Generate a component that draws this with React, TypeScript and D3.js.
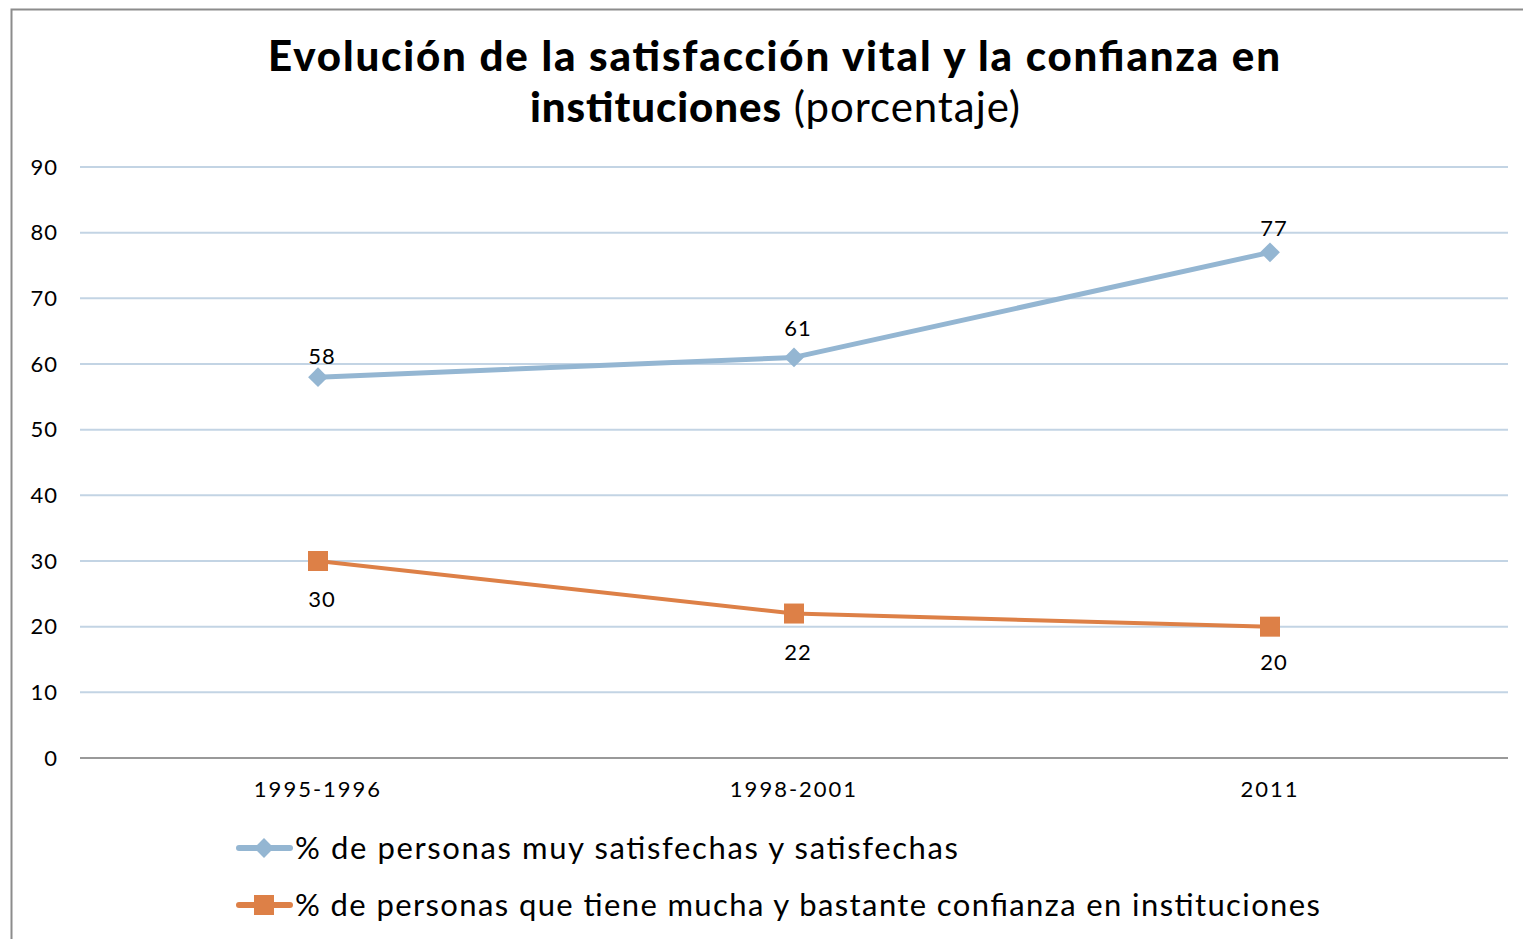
import React, { useEffect, useRef } from 'react';
import * as d3 from 'd3';

// Chart data
const periods = ['1995-1996', '1998-2001', '2011'];
const satisfied = [58, 61, 77];
const confidence = [30, 22, 20];
const yTicks = [0, 10, 20, 30, 40, 50, 60, 70, 80, 90];
const seriesNames = [
  '% de personas muy satisfechas y satisfechas',
  '% de personas que tiene mucha y bastante confianza en instituciones',
];

const W = 1523;
const H = 939;
const FONT = 'Lato, "Open Sans", sans-serif';
const BLUE = '#94b6d2';
const ORANGE = '#dd8047';

export default function App() {
  const svgRef = useRef<SVGSVGElement | null>(null);

  useEffect(() => {
    if (!svgRef.current) return;
    const svg = d3.select(svgRef.current);
    svg.selectAll('*').remove();

    svg.append('rect').attr('width', W).attr('height', H).attr('fill', '#fff');

    // chart frame
    svg.append('path')
      .attr('d', `M11.5,${H + 2} L11.5,9.5 L${W + 2},9.5`)
      .attr('fill', 'none')
      .attr('stroke', '#8c8c8c')
      .attr('stroke-width', 2);

    // Title (stretched to the width of the original wide font)
    svg.append('text')
      .attr('x', 268).attr('y', 71)
      .attr('font-family', FONT)
      .attr('font-size', 42).attr('font-weight', 900)
      .attr('textLength', 1012).attr('lengthAdjust', 'spacing')
      .text('Evolución de la satisfacción vital y la confianza en');
    const l2 = svg.append('text')
      .attr('x', 530).attr('y', 122)
      .attr('font-family', FONT)
      .attr('font-size', 42)
      .attr('textLength', 490).attr('lengthAdjust', 'spacing');
    l2.append('tspan').attr('font-weight', 900).text('instituciones');
    l2.append('tspan').attr('font-weight', 'normal').text(' (porcentaje)');

    const left = 80, right = 1508, top = 167, bottom = 758;

    const x = d3.scaleBand().domain(periods).range([left, right]);
    const y = d3.scaleLinear().domain([0, 90]).range([bottom, top]);
    const cx = (p: string) => (x(p) ?? 0) + x.bandwidth() / 2;

    // Grid lines
    svg.append('g')
      .selectAll('line')
      .data(yTicks.filter(t => t > 0))
      .enter()
      .append('line')
      .attr('x1', left).attr('x2', right)
      .attr('y1', d => y(d)).attr('y2', d => y(d))
      .attr('stroke', '#c3d4e4')
      .attr('stroke-width', 2);

    // X axis line
    svg.append('line')
      .attr('x1', left).attr('x2', right)
      .attr('y1', y(0)).attr('y2', y(0))
      .attr('stroke', '#999')
      .attr('stroke-width', 2);

    // Y tick labels
    svg.append('g')
      .selectAll('text')
      .data(yTicks)
      .enter()
      .append('text')
      .attr('x', 58)
      .attr('y', d => y(d))
      .attr('dy', '0.35em')
      .attr('text-anchor', 'end')
      .attr('font-family', FONT)
      .attr('font-size', 22)
      .attr('letter-spacing', 1)
      .attr('fill', '#000')
      .text(d => d);

    // X tick labels
    svg.append('g')
      .selectAll('text')
      .data(periods)
      .enter()
      .append('text')
      .attr('x', d => cx(d))
      .attr('y', 797)
      .attr('text-anchor', 'middle')
      .attr('font-family', FONT)
      .attr('font-size', 22)
      .attr('letter-spacing', 2)
      .attr('fill', '#000')
      .text(d => d);

    const line = d3.line<number>()
      .x((d, i) => cx(periods[i]))
      .y(d => y(d));

    // Blue series
    svg.append('path')
      .datum(satisfied)
      .attr('d', line)
      .attr('fill', 'none')
      .attr('stroke', BLUE)
      .attr('stroke-width', 5)
      .attr('stroke-linejoin', 'round');

    const diamond = d3.symbol().type(d3.symbolDiamond2).size(250);
    svg.append('g')
      .selectAll('path')
      .data(satisfied)
      .enter()
      .append('path')
      .attr('d', diamond)
      .attr('transform', (d, i) => `translate(${cx(periods[i])},${y(d)})`)
      .attr('fill', BLUE);

    // label gap above each blue point (Excel nudges these a bit per point)
    const blueGap = [13, 21, 16];
    svg.append('g')
      .selectAll('text')
      .data(satisfied)
      .enter()
      .append('text')
      .attr('x', (d, i) => cx(periods[i]) + 4)
      .attr('y', (d, i) => y(d) - blueGap[i])
      .attr('text-anchor', 'middle')
      .attr('font-family', FONT)
      .attr('font-size', 22)
      .attr('letter-spacing', 1)
      .attr('fill', '#000')
      .text(d => d);

    // Orange series
    svg.append('path')
      .datum(confidence)
      .attr('d', line)
      .attr('fill', 'none')
      .attr('stroke', ORANGE)
      .attr('stroke-width', 4)
      .attr('stroke-linejoin', 'round');

    svg.append('g')
      .selectAll('rect')
      .data(confidence)
      .enter()
      .append('rect')
      .attr('x', (d, i) => cx(periods[i]) - 10)
      .attr('y', d => y(d) - 10)
      .attr('width', 20)
      .attr('height', 20)
      .attr('fill', ORANGE);

    const orangeGap = [46, 46, 43];
    svg.append('g')
      .selectAll('text')
      .data(confidence)
      .enter()
      .append('text')
      .attr('x', (d, i) => cx(periods[i]) + 4)
      .attr('y', (d, i) => y(d) + orangeGap[i])
      .attr('text-anchor', 'middle')
      .attr('font-family', FONT)
      .attr('font-size', 22)
      .attr('letter-spacing', 1)
      .attr('fill', '#000')
      .text(d => d);

    // Legend
    const legend = svg.append('g');
    const legendY = [848, 905];
    const legendLen = [663, 1025];
    legendY.forEach((ly, i) => {
      const col = i === 0 ? BLUE : ORANGE;
      legend.append('line')
        .attr('x1', 239).attr('x2', 290)
        .attr('y1', ly).attr('y2', ly)
        .attr('stroke', col)
        .attr('stroke-width', 6)
        .attr('stroke-linecap', 'round');
      if (i === 0) {
        legend.append('path')
          .attr('d', diamond)
          .attr('transform', `translate(264,${ly})`)
          .attr('fill', col);
      } else {
        legend.append('rect')
          .attr('x', 254).attr('y', ly - 10)
          .attr('width', 20).attr('height', 20)
          .attr('fill', col);
      }
      legend.append('text')
        .attr('x', 295)
        .attr('y', ly)
        .attr('dy', '0.35em')
        .attr('font-family', FONT)
        .attr('font-size', 31)
        .attr('textLength', legendLen[i])
        .attr('lengthAdjust', 'spacing')
        .attr('fill', '#000')
        .text(seriesNames[i]);
    });
  }, []);

  return (
    <div style={{ position: 'fixed', left: 0, top: 0, width: W, height: H }}>
      <svg ref={svgRef} width={W} height={H} />
    </div>
  );
}
